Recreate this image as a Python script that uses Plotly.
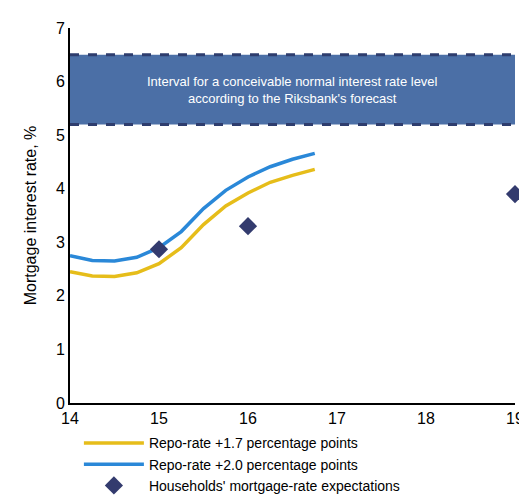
import plotly.graph_objects as go

quarters = [14, 14.25, 14.5, 14.75, 15, 15.25, 15.5, 15.75, 16, 16.25, 16.5, 16.75]
repo17 = [2.45, 2.37, 2.36, 2.43, 2.6, 2.9, 3.33, 3.68, 3.92, 4.12, 4.25, 4.36]
repo20 = [2.75, 2.66, 2.65, 2.72, 2.9, 3.2, 3.63, 3.97, 4.22, 4.41, 4.55, 4.66]
exp_x = [15, 16, 19]
exp_y = [2.87, 3.3, 3.9]
band_low, band_high = 5.2, 6.5

fig = go.Figure()
fig.add_shape(type="rect", xref="x", yref="y", x0=14, x1=19, y0=band_low, y1=band_high,
              fillcolor="#4b6fa6", line_width=0, layer="below")
for yv in [band_low, band_high]:
    fig.add_shape(type="line", xref="x", yref="y", x0=14, x1=19, y0=yv, y1=yv,
                  line=dict(color="#2e3d6e", width=3, dash="dash"))
fig.add_annotation(x=16.5, y=5.85, xref="x", yref="y", showarrow=False,
                   text="Interval for a conceivable normal interest rate level<br>according to the Riksbank's forecast",
                   font=dict(color="white", size=13, family="Arial"))
fig.add_trace(go.Scatter(x=quarters, y=repo17, mode="lines", name="Repo-rate +1.7 percentage points",
                         line=dict(color="#e6bd1a", width=3.5)))
fig.add_trace(go.Scatter(x=quarters, y=repo20, mode="lines", name="Repo-rate +2.0 percentage points",
                         line=dict(color="#2a88d8", width=3.5)))
fig.add_trace(go.Scatter(x=exp_x, y=exp_y, mode="markers", name="Households' mortgage-rate expectations",
                         marker=dict(symbol="diamond", size=14, color="#333b6e"), cliponaxis=False))
fig.update_layout(
    width=527, height=497, paper_bgcolor="white", plot_bgcolor="white",
    margin=dict(l=62, r=20, t=20, b=102, autoexpand=False),
    font=dict(family="Arial", size=16, color="black"),
    showlegend=True,
    legend=dict(x=0.02, y=-0.065, xanchor="left", yanchor="top", font=dict(size=14),
                tracegroupgap=0, itemwidth=60),
    xaxis=dict(range=[14, 19], tickvals=[14, 15, 16, 17, 18, 19], showgrid=False, showline=True,
               linecolor="black", linewidth=2, ticks="", zeroline=False, ticklabeloverflow="allow"),
    yaxis=dict(range=[0, 7], dtick=1, showgrid=False, showline=True, linecolor="black", linewidth=2,
               ticks="", zeroline=False, title=dict(text="Mortgage interest rate, %", font=dict(size=16))),
)
fig.write_html("out.html")
